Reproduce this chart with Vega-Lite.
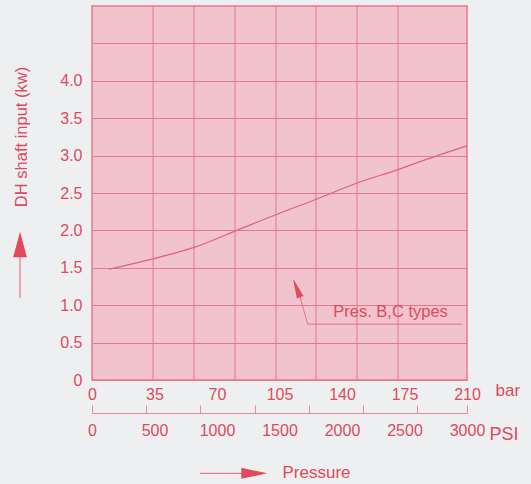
{
  "$schema": "https://vega.github.io/schema/vega-lite/v6.json",
  "width": 375,
  "height": 374,
  "autosize": {"type": "none"},
  "padding": {"left": 92, "top": 6, "right": 64, "bottom": 104},
  "background": "#eeeff0",
  "config": {
    "view": {"fill": "#f1c3cc", "stroke": "#e6788c", "strokeWidth": 1.5},
    "font": "Liberation Sans",
    "axis": {
      "labelColor": "#e04a5c",
      "titleColor": "#e04a5c",
      "labelFont": "Liberation Sans",
      "titleFont": "Liberation Sans",
      "labelFontSize": 16,
      "titleFontSize": 17,
      "titleFontWeight": "normal"
    }
  },
  "datasets": {
    "curve": [
      {"bar": 9.5, "kw": 1.48},
      {"bar": 34, "kw": 1.62},
      {"bar": 58, "kw": 1.78},
      {"bar": 80, "kw": 1.99},
      {"bar": 105, "kw": 2.23},
      {"bar": 126, "kw": 2.42},
      {"bar": 148, "kw": 2.63},
      {"bar": 171, "kw": 2.81},
      {"bar": 191, "kw": 2.98},
      {"bar": 210, "kw": 3.13}
    ],
    "vgrid": [
      {"bar": 34.2}, {"bar": 57.1}, {"bar": 80.1}, {"bar": 103.0},
      {"bar": 125.4}, {"bar": 148.4}, {"bar": 171.4}
    ],
    "leader": [
      {"bar": 116.5, "kw": 1.11},
      {"bar": 120.8, "kw": 0.747},
      {"bar": 207.0, "kw": 0.747}
    ]
  },
  "layer": [
    {
      "layer": [
        {
          "data": {"name": "vgrid"},
          "mark": {"type": "rule", "color": "#e6788c", "strokeWidth": 1},
          "encoding": {
            "x": {"field": "bar", "type": "quantitative", "scale": {"domain": [0, 210], "nice": false, "zero": false}}
          }
        },
        {
          "data": {"name": "curve"},
          "mark": {"type": "line", "color": "#e0607a", "strokeWidth": 1.2, "interpolate": "monotone"},
          "encoding": {
            "x": {
              "field": "bar", "type": "quantitative",
              "scale": {"domain": [0, 210], "nice": false, "zero": false},
              "axis": {
                "values": [0, 35, 70, 105, 140, 175, 210],
                "domain": false, "ticks": false, "grid": false,
                "labelFlush": false, "labelPadding": 6,
                "title": "bar", "titleAngle": 0, "titleAlign": "left",
                "titleBaseline": "alphabetic", "titleX": 403, "titleY": 15,
                "titleAnchor": null
              }
            },
            "y": {
              "field": "kw", "type": "quantitative",
              "scale": {"domain": [0, 5], "nice": false, "zero": false},
              "axis": {
                "values": [0, 0.5, 1, 1.5, 2, 2.5, 3, 3.5, 4, 4.5],
                "labelExpr": "datum.value > 4.2 ? '' : (datum.value == 0 ? '0' : format(datum.value, '.1f'))",
                "domain": false, "ticks": false,
                "grid": true, "gridColor": "#e6788c", "gridOpacity": 1, "gridWidth": 1,
                "labelPadding": 10,
                "title": "DH shaft input (kw)",
                "titleFontSize": 16.5,
                "titleAngle": -90, "titleAlign": "center", "titleBaseline": "middle",
                "titleAnchor": null, "titleX": -71, "titleY": 130.5
              }
            }
          }
        },
        {
          "data": {"name": "leader"},
          "mark": {"type": "line", "color": "#e0607a", "strokeWidth": 0.8},
          "encoding": {
            "x": {"field": "bar", "type": "quantitative", "scale": {"domain": [0, 210], "nice": false, "zero": false}},
            "y": {"field": "kw", "type": "quantitative", "scale": {"domain": [0, 5], "nice": false, "zero": false}}
          }
        },
        {
          "data": {"values": [{}]},
          "mark": {"type": "point", "shape": "M0,-1L0.36,1L-0.36,1Z", "size": 400, "filled": true, "color": "#e04a5c", "opacity": 1, "angle": -21},
          "encoding": {
            "x": {"datum": 114.6, "type": "quantitative", "scale": {"domain": [0, 210], "nice": false, "zero": false}},
            "y": {"datum": 1.23, "type": "quantitative", "scale": {"domain": [0, 5], "nice": false, "zero": false}}
          }
        },
        {
          "data": {"values": [{}]},
          "mark": {"type": "text", "text": "Pres. B,C types", "align": "left", "baseline": "alphabetic", "font": "Liberation Sans", "fontSize": 16.5, "color": "#e04a5c"},
          "encoding": {
            "x": {"datum": 135.1, "type": "quantitative", "scale": {"domain": [0, 210], "nice": false, "zero": false}},
            "y": {"datum": 0.846, "type": "quantitative", "scale": {"domain": [0, 5], "nice": false, "zero": false}}
          }
        },
        {
          "data": {"values": [{}]},
          "mark": {"type": "rule", "color": "#e0607a", "strokeWidth": 1, "clip": false},
          "encoding": {
            "x": {"datum": -40.3, "type": "quantitative", "scale": {"domain": [0, 210], "nice": false, "zero": false}},
            "y": {"datum": 1.096, "type": "quantitative", "scale": {"domain": [0, 5], "nice": false, "zero": false}},
            "y2": {"datum": 1.65}
          }
        },
        {
          "data": {"values": [{}]},
          "mark": {"type": "point", "shape": "M0,-1L0.54,1L-0.54,1Z", "size": 650, "filled": true, "color": "#e04a5c", "opacity": 1, "clip": false},
          "encoding": {
            "x": {"datum": -40.3, "type": "quantitative", "scale": {"domain": [0, 210], "nice": false, "zero": false}},
            "y": {"datum": 1.81, "type": "quantitative", "scale": {"domain": [0, 5], "nice": false, "zero": false}}
          }
        },
        {
          "data": {"values": [{}]},
          "mark": {"type": "rule", "color": "#e0607a", "strokeWidth": 1, "clip": false},
          "encoding": {
            "x": {"datum": 60.5, "type": "quantitative", "scale": {"domain": [0, 210], "nice": false, "zero": false}},
            "x2": {"datum": 84},
            "y": {"datum": -1.248, "type": "quantitative", "scale": {"domain": [0, 5], "nice": false, "zero": false}}
          }
        },
        {
          "data": {"values": [{}]},
          "mark": {"type": "point", "shape": "M0,-1L0.42,1L-0.42,1Z", "size": 680, "filled": true, "color": "#e04a5c", "opacity": 1, "angle": 90, "clip": false},
          "encoding": {
            "x": {"datum": 90.9, "type": "quantitative", "scale": {"domain": [0, 210], "nice": false, "zero": false}},
            "y": {"datum": -1.248, "type": "quantitative", "scale": {"domain": [0, 5], "nice": false, "zero": false}}
          }
        }
      ]
    },
    {
      "data": {"values": [{"psi": 0}]},
      "mark": {"type": "rule", "opacity": 0},
      "encoding": {
        "x": {
          "field": "psi", "type": "quantitative",
          "scale": {"domain": [0, 3000], "nice": false, "zero": false},
          "axis": {
            "orient": "bottom", "offset": 33,
            "values": [0, 500, 1000, 1500, 2000, 2500, 3000],
            "format": "d",
            "domain": true, "domainColor": "#e88a98", "domainWidth": 1,
            "ticks": false, "grid": false, "labelFlush": false, "labelPadding": 9,
            "title": "Pressure", "titleAngle": 0, "titleAlign": "left",
            "titleBaseline": "alphabetic", "titleX": 190, "titleY": 64, "titleAnchor": null
          }
        }
      }
    },
    {
      "data": {"values": [{"psiTick": 0}]},
      "mark": {"type": "rule", "opacity": 0},
      "encoding": {
        "x": {
          "field": "psiTick", "type": "quantitative",
          "scale": {"domain": [0, 3461], "nice": false, "zero": false},
          "axis": {
            "orient": "bottom", "offset": 33,
            "values": [0, 500, 1000, 1500, 2000, 2500, 3000, 3461],
            "domain": false, "labels": false, "grid": false,
            "ticks": true, "tickSize": -8, "tickColor": "#e88a98", "tickWidth": 1,
            "title": "PSI", "titleFontSize": 18, "titleAngle": 0, "titleAlign": "left",
            "titleBaseline": "alphabetic", "titleX": 397, "titleY": 26, "titleAnchor": null
          }
        }
      }
    }
  ],
  "resolve": {"scale": {"x": "independent"}, "axis": {"x": "independent"}}
}
